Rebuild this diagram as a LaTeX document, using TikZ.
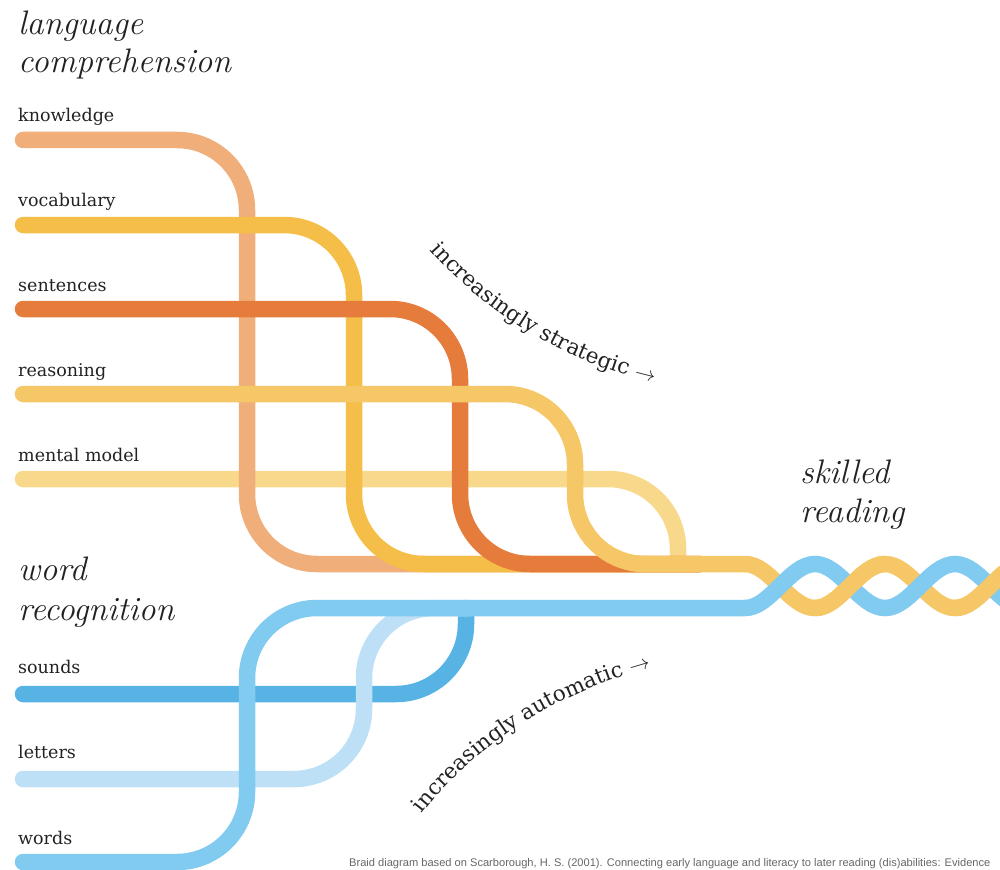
\documentclass[tikz,border=0pt]{standalone}
\usepackage{fontspec}
\newfontfamily\labelfont{DejaVu Serif}
\newfontfamily\notefont{Liberation Sans}
\usetikzlibrary{positioning,decorations.text}

\definecolor{knowcol}{HTML}{F0AE7A}
\definecolor{vocabcol}{HTML}{F5BE48}
\definecolor{sentcol}{HTML}{E67C3C}
\definecolor{reascol}{HTML}{F5C766}
\definecolor{mentcol}{HTML}{F8D98C}
\definecolor{wordcol}{HTML}{82CBF0}
\definecolor{lettcol}{HTML}{BEE0F7}
\definecolor{soundcol}{HTML}{56B3E4}
\definecolor{inkcol}{HTML}{222222}

\begin{document}
\begin{tikzpicture}[x=1pt,y=-1pt,
    strand/.style={line width=16.5pt, line cap=round, rounded corners=70pt},
    braid/.style={line width=16.5pt, line cap=butt},
    strandlabel/.style={anchor=base west, inner sep=0pt, text=inkcol,
        font=\labelfont\fontsize{17.5}{20}\selectfont},
    heading/.style={anchor=base west, inner sep=0pt, text=inkcol,
        font=\itshape\fontsize{34}{38}\selectfont}]

\useasboundingbox (0,0) rectangle (1000,869);
\clip (0,0) rectangle (1000,869);

% Headings
\node[heading] (lang1) at (18,35) {language};
\node[heading] (lang2) at (18,73) {comprehension};
\node[heading] (word1) at (18,580) {word};
\node[heading] (word2) at (18,620) {recognition};
\node[heading] (skill1) at (800,483) {skilled};
\node[heading] (skill2) at (800,522) {reading};

% Strand labels
\node[strandlabel] (knowledge) at (18,122) {knowledge};
\node[strandlabel] (vocabulary) at (18,206) {vocabulary};
\node[strandlabel] (sentences) at (18,291) {sentences};
\node[strandlabel] (reasoning) at (18,376) {reasoning};
\node[strandlabel] (mental) at (18,461) {mental model};
\node[strandlabel] (sounds) at (18,673) {sounds};
\node[strandlabel] (letters) at (18,758) {letters};
\node[strandlabel] (words) at (18,844) {words};

% Language comprehension strands
\draw[strand, mentcol] (23,479) -| (678,564);
\draw[strand, knowcol] (23,140) -| (247,564) -- (700,564);
\draw[strand, vocabcol] (23,225) -| (354,564) -- (700,564);
\draw[strand, sentcol] (23,309) -| (460,564) -- (700,564);
\draw[strand, reascol] (23,394) -| (575,564) -- (745,564);

% Word recognition strands
\draw[strand, soundcol] (23,694) -| (466,608);
\draw[strand, lettcol] (23,779) -- (364,779) -- (364,608) -- (470,608);
\draw[strand, wordcol] (23,862) -- (247,862) -- (247,608) -- (745,608);

% Braid
\draw[braid, reascol] (745,564)
    cos (780,586) sin (815,608) cos (850,586) sin (885,564)
    cos (920,586) sin (955,608) cos (990,586) sin (1025,564);
\draw[braid, wordcol] (745,608)
    cos (780,586) sin (815,564) cos (850,586) sin (885,608)
    cos (920,586) sin (955,564) cos (990,586) sin (1025,608);
\draw[braid, reascol] (815,608) cos (850,586) sin (885,564);
\draw[braid, reascol] (955,608) cos (990,586) sin (1025,564);

% Curved notes
\path[decorate, decoration={text along path, text align=left, text color=inkcol,
    text={|\labelfont\fontsize{21.5}{24}\selectfont|increasingly strategic {$\rightarrow$}}}]
    (430,250) .. controls (485,312) and (570,368) .. (672,386);
\path[decorate, decoration={text along path, text align=left, text color=inkcol,
    text={|\labelfont\fontsize{21.5}{24}\selectfont|increasingly automatic {$\rightarrow$}}}]
    (422,814) .. controls (475,745) and (560,688) .. (672,662);

% Source
\node[anchor=base west, inner sep=0pt, text=black!60,
    font=\notefont\fontsize{11.1}{13}\selectfont] (source) at (349,866)
    {Braid diagram based on Scarborough, H. S. (2001). Connecting early language and literacy to later reading (dis)abilities: Evidence};

\end{tikzpicture}
\end{document}
